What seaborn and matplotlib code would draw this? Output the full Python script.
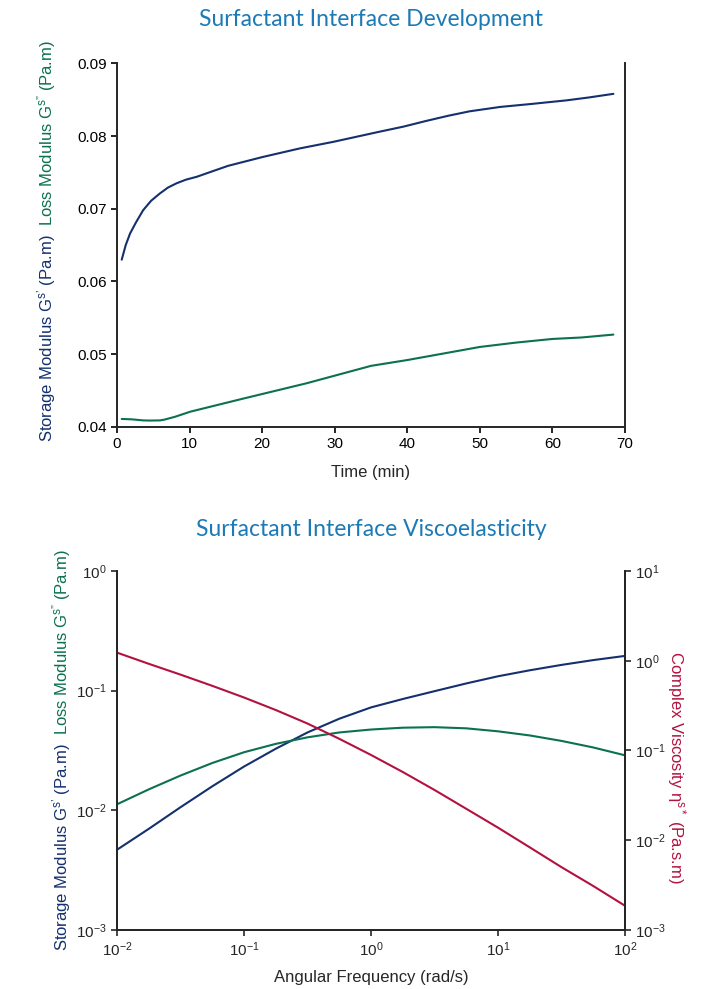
import matplotlib
matplotlib.use("Agg")
import matplotlib.pyplot as plt
import pandas as pd
import seaborn as sns
from matplotlib.ticker import LogLocator, NullLocator, LogFormatterSciNotation

## Colours
navy = "#14306e"
green = "#0b7150"
red = "#b2123f"
title_blue = "#1c7ab6"

## Data - top panel (time sweep)
time_storage = [0.65, 1.2, 1.8, 2.6, 3.6, 4.7, 5.9, 7.0, 8.2, 9.5, 11.0, 13.0, 15.3, 20.0, 25.2, 29.8, 33.0,
                36.2, 39.5, 42.7, 45.7, 48.6, 52.8, 57.0, 61.9, 65.0, 68.4]
storage_t = [0.0630, 0.0650, 0.0666, 0.0681, 0.0698, 0.0711, 0.0721, 0.0729, 0.0735, 0.0740, 0.0744, 0.0751,
             0.0759, 0.0771, 0.0783, 0.0792, 0.0799, 0.0806, 0.0813, 0.0821, 0.0828, 0.0834, 0.0840, 0.0844,
             0.0849, 0.0853, 0.0858]
time_loss = [0.65, 2.0, 3.6, 4.5, 5.9, 6.5, 8.0, 10.1, 17.4, 26.1, 35.0, 40.0, 45.0, 50.0, 55.0, 60.0, 64.0, 68.4]
loss_t = [0.0411, 0.04105, 0.0409, 0.04088, 0.0409, 0.0410, 0.0414, 0.0421, 0.0439, 0.0460, 0.0484, 0.0492,
          0.0501, 0.0510, 0.0516, 0.0521, 0.0523, 0.0527]

## Data - bottom panel (frequency sweep)
freq = [0.01, 0.0178, 0.0316, 0.0562, 0.1, 0.178, 0.316, 0.562, 1.0, 1.78, 3.16, 5.62, 10.0, 17.8, 31.6, 56.2, 100.0]
storage_f = [0.00468, 0.0070, 0.0106, 0.01585, 0.0232, 0.0327, 0.0447, 0.0582, 0.0724, 0.0851, 0.0989,
             0.1148, 0.1318, 0.1479, 0.164, 0.1799, 0.195]
loss_f = [0.01122, 0.01496, 0.0195, 0.02483, 0.03055, 0.0359, 0.0407, 0.0447, 0.0473, 0.0490, 0.0495,
          0.0484, 0.0457, 0.0422, 0.0380, 0.0335, 0.0288]
viscosity_f = [1.230, 0.923, 0.700, 0.525, 0.389, 0.282, 0.1995, 0.1349, 0.0891, 0.0575, 0.0363, 0.0224,
               0.0138, 0.00832, 0.00501, 0.00309, 0.00186]

time_ticks = [0, 10, 20, 30, 40, 50, 60, 70]
mod_ticks = [0.04, 0.05, 0.06, 0.07, 0.08, 0.09]

df_t1 = pd.DataFrame({"t": time_storage, "v": storage_t})
df_t2 = pd.DataFrame({"t": time_loss, "v": loss_t})
df_f = pd.DataFrame({"w": freq, "gs": storage_f, "gl": loss_f, "eta": viscosity_f})

sns.set_style("ticks")
plt.rcParams["font.family"] = ["Liberation Sans", "DejaVu Sans"]
plt.rcParams["mathtext.fontset"] = "custom"
plt.rcParams["mathtext.rm"] = "Liberation Sans"
plt.rcParams["mathtext.it"] = "Liberation Sans"
plt.rcParams["axes.linewidth"] = 1.4
plt.rcParams["xtick.major.width"] = 1.2
plt.rcParams["ytick.major.width"] = 1.2
plt.rcParams["xtick.major.size"] = 4
plt.rcParams["ytick.major.size"] = 4
plt.rcParams["xtick.direction"] = "out"
plt.rcParams["ytick.direction"] = "out"

fig = plt.figure(figsize=(7.1, 9.89), dpi=100)

storage_lbl = "Storage Modulus G$^{s\u2019}$ (Pa.m)"
loss_lbl = "Loss Modulus G$^{s\u201d}$ (Pa.m)"
title_font = dict(fontsize=16.5, color=title_blue, family=["Lato", "DejaVu Sans"], fontweight="normal")

# %%
''' Top panel '''
ax1 = fig.add_axes([0.1648, 0.5683, 0.7155, 0.3677])
sns.lineplot(data=df_t1, x="t", y="v", color=navy, lw=1.5, ax=ax1)
sns.lineplot(data=df_t2, x="t", y="v", color=green, lw=1.5, ax=ax1)
ax1.set_xlim(0, 70)
ax1.set_ylim(0.04, 0.09)
ax1.set_xticks(time_ticks)
ax1.set_yticks(mod_ticks)
ax1.set_yticklabels([f"{v:.2f}" for v in mod_ticks])
ax1.tick_params(labelsize=11, colors="black")
ax1.spines["top"].set_visible(False)
ax1.set_xlabel("Time (min)", fontsize=12, labelpad=10)
ax1.set_ylabel("")

fig.text(0.5225, 0.98, "Surfactant Interface Development", ha="center", va="center", **title_font)

## two-colour y label
fig.text(0.066, 1 - 234 / 989, storage_lbl, rotation=90,
         rotation_mode="anchor", ha="right", va="center", fontsize=12, color=navy)
fig.text(0.066, 1 - 226 / 989, loss_lbl, rotation=90,
         rotation_mode="anchor", ha="left", va="center", fontsize=12, color=green)

# %%
''' Bottom panel '''
ax2 = fig.add_axes([0.1648, 0.0597, 0.7155, 0.363])
sns.lineplot(data=df_f, x="w", y="gs", color=navy, lw=1.5, ax=ax2)
sns.lineplot(data=df_f, x="w", y="gl", color=green, lw=1.5, ax=ax2)
ax2.set_xscale("log")
ax2.set_yscale("log")
ax2.set_xlim(1e-2, 1e2)
ax2.set_ylim(1e-3, 1e0)
ax2.xaxis.set_major_locator(LogLocator(base=10, numticks=10))
ax2.yaxis.set_major_locator(LogLocator(base=10, numticks=10))
ax2.xaxis.set_minor_locator(NullLocator())
ax2.yaxis.set_minor_locator(NullLocator())
ax2.xaxis.set_major_formatter(LogFormatterSciNotation())
ax2.yaxis.set_major_formatter(LogFormatterSciNotation())
ax2.tick_params(labelsize=11)
ax2.spines["top"].set_visible(False)
ax2.set_xlabel("Angular Frequency (rad/s)", fontsize=12, labelpad=8)
ax2.set_ylabel("")

ax3 = ax2.twinx()
sns.lineplot(data=df_f, x="w", y="eta", color=red, lw=1.5, ax=ax3)
ax3.set_yscale("log")
ax3.set_ylim(1e-3, 1e1)
ax3.set_xlim(1e-2, 1e2)
ax3.yaxis.set_major_locator(LogLocator(base=10, numticks=10))
ax3.yaxis.set_minor_locator(NullLocator())
ax3.yaxis.set_major_formatter(LogFormatterSciNotation())
ax3.tick_params(labelsize=11)
ax3.spines["top"].set_visible(False)
ax3.spines["right"].set_linewidth(1.4)
ax3.set_ylabel("")

fig.text(0.5225, 1 - 529 / 989, "Surfactant Interface Viscoelasticity", ha="center", va="center", **title_font)

fig.text(0.087, 1 - 743 / 989, storage_lbl, rotation=90,
         rotation_mode="anchor", ha="right", va="center", fontsize=12, color=navy)
fig.text(0.087, 1 - 735 / 989, loss_lbl, rotation=90,
         rotation_mode="anchor", ha="left", va="center", fontsize=12, color=green)
fig.text(0.953, 1 - 767 / 989, "Complex Viscosity η$^{s*}$ (Pa.s.m)", rotation=270,
         ha="center", va="center", fontsize=12, color=red)

fig.savefig("out.png", dpi=100)
